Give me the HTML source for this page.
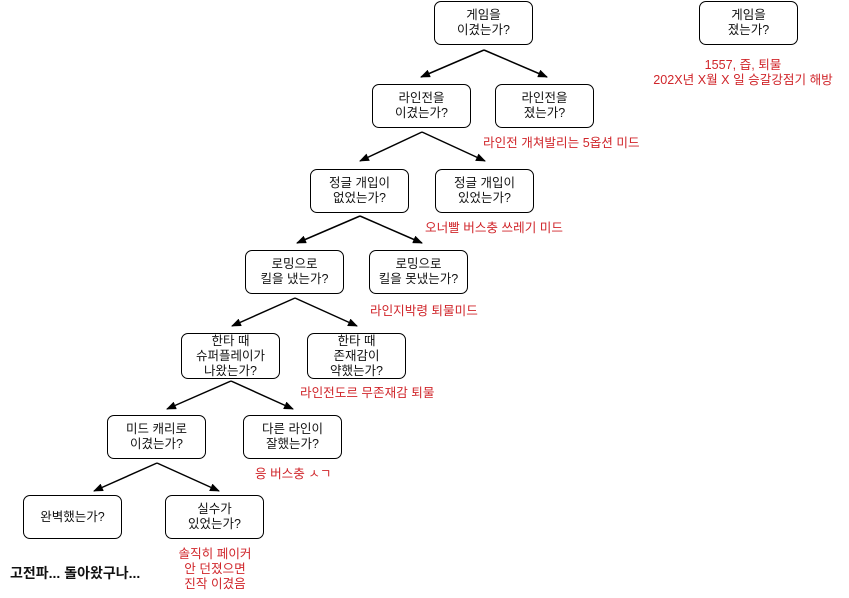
<!DOCTYPE html>
<html><head><meta charset="utf-8"><style>
body{margin:0;background:#fff;width:849px;height:598px;overflow:hidden;font-family:"Liberation Sans","Noto Sans CJK KR",sans-serif}
.n{position:absolute;width:97px;height:42px;border:1.5px solid #000;border-radius:7px;display:flex;align-items:center;justify-content:center;text-align:center;font-size:12.5px;line-height:15px;color:#111;background:#fff}
.r{position:absolute;color:#d0262b;font-size:12.6px;line-height:15px;white-space:nowrap}
svg{position:absolute;left:0;top:0}
</style></head><body>
<svg width="849" height="598"><defs><marker id="a" markerWidth="10" markerHeight="8" refX="9" refY="4" orient="auto" markerUnits="userSpaceOnUse"><path d="M0,0L10,4L0,8z"/></marker></defs>
<g stroke="#000" stroke-width="1.5" marker-end="url(#a)">
<line x1="484" y1="50" x2="421" y2="77"/><line x1="484" y1="50" x2="547" y2="77"/>
<line x1="422" y1="132" x2="360" y2="161"/><line x1="422" y1="132" x2="485" y2="161"/>
<line x1="360" y1="216" x2="297" y2="243"/><line x1="360" y1="216" x2="422" y2="243"/>
<line x1="295" y1="298" x2="232" y2="326"/><line x1="295" y1="298" x2="357" y2="326"/>
<line x1="231" y1="381" x2="167" y2="409"/><line x1="231" y1="381" x2="293" y2="409"/>
<line x1="157" y1="463" x2="94" y2="491"/><line x1="157" y1="463" x2="219" y2="491"/>
</g></svg>
<div class="n" style="left:434px;top:1px">게임을<br>이겼는가?</div>
<div class="n" style="left:699px;top:1px">게임을<br>졌는가?</div>
<div class="n" style="left:372px;top:84px">라인전을<br>이겼는가?</div>
<div class="n" style="left:495px;top:84px">라인전을<br>졌는가?</div>
<div class="n" style="left:310px;top:169px">정글 개입이<br>없었는가?</div>
<div class="n" style="left:435px;top:169px">정글 개입이<br>있었는가?</div>
<div class="n" style="left:245px;top:250px">로밍으로<br>킬을 냈는가?</div>
<div class="n" style="left:369px;top:250px">로밍으로<br>킬을 못냈는가?</div>
<div class="n" style="left:181px;top:333px;height:44px">한타 때<br>슈퍼플레이가<br>나왔는가?</div>
<div class="n" style="left:307px;top:333px;height:44px">한타 때<br>존재감이<br>약했는가?</div>
<div class="n" style="left:107px;top:415px">미드 캐리로<br>이겼는가?</div>
<div class="n" style="left:243px;top:415px">다른 라인이<br>잘했는가?</div>
<div class="n" style="left:23px;top:495px">완벽했는가?</div>
<div class="n" style="left:165px;top:495px">실수가<br>있었는가?</div>
<div class="r" style="left:643px;top:58px;width:200px;text-align:center">1557, 즙, 퇴물<br>202X년 X월 X 일 승갈강점기 해방</div>
<div class="r" style="left:483px;top:136px">라인전 개쳐발리는 5옵션 미드</div>
<div class="r" style="left:425px;top:221px">오너빨 버스충 쓰레기 미드</div>
<div class="r" style="left:370px;top:304px">라인지박령 퇴물미드</div>
<div class="r" style="left:300px;top:386px">라인전도르 무존재감 퇴물</div>
<div class="r" style="left:255px;top:467px">응 버스충 ㅅㄱ</div>
<div class="r" style="left:155px;top:547px;width:120px;text-align:center">솔직히 페이커<br>안 던졌으면<br>진작 이겼음</div>
<div style="position:absolute;left:10px;top:563px;font-size:14px;font-weight:bold;color:#111">고전파... 돌아왔구나...</div>
</body></html>
